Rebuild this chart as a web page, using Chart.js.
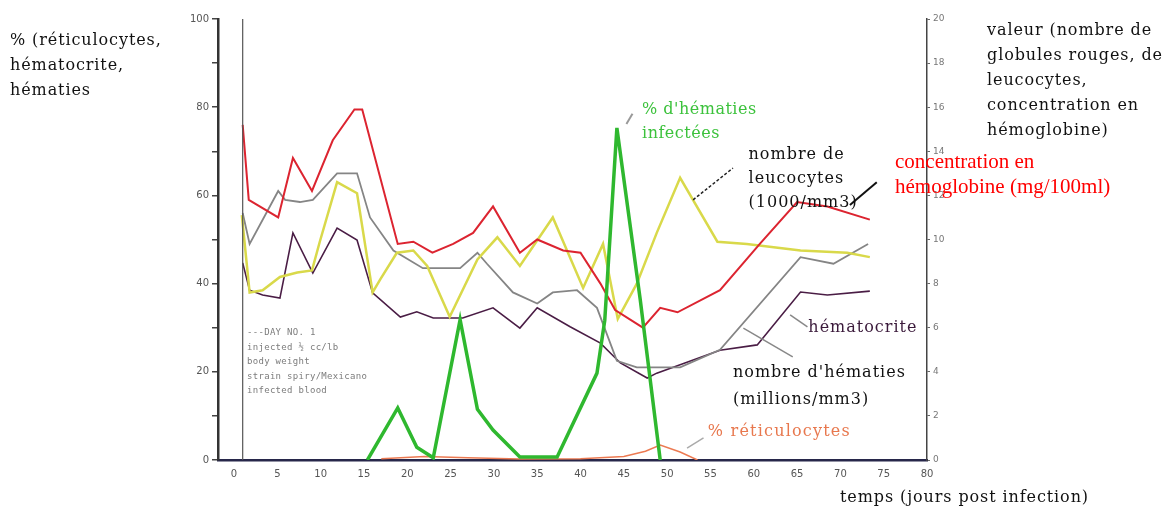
<!DOCTYPE html>
<html lang="fr">
<head>
<meta charset="utf-8">
<title>Paludisme : évolution hématologique</title>
<script src="https://cdn.jsdelivr.net/npm/chart.js@4.4.1/dist/chart.umd.min.js"></script>
<style>
    html, body { margin: 0; padding: 0; background: #fff; }
    #wrap { width: 1174px; height: 513px; }
</style>
</head>
<body>
<div id="wrap"><canvas id="bloodChart" width="1174" height="513"></canvas></div>
<script>
// Axis ticks
const dayTicks = [0, 5, 10, 15, 20, 25, 30, 35, 40, 45, 50, 55, 60, 65, 70, 75, 80];
const percentLabels = [0, 20, 40, 60, 80, 100];
const valueLabels = [0, 2, 4, 6, 8, 10, 12, 14, 16, 18, 20];
const infectionDay = 1;

// Hemoglobin concentration (mg/100ml) - right axis
const hemoDays = [1.0, 1.7, 5.1, 6.8, 9.0, 11.4, 13.9, 14.8, 18.9, 20.7, 22.9, 25.3, 27.6, 29.9, 33.0, 35.0, 38.0, 40.0, 42.3, 44.0, 47.2, 49.2, 51.2, 56.1, 60.7, 65.0, 68.5, 73.4];
const hemoValues = [15.2, 11.8, 11.0, 13.7, 12.2, 14.5, 15.9, 15.9, 9.8, 9.9, 9.4, 9.8, 10.3, 11.5, 9.4, 10.0, 9.5, 9.4, 8.0, 6.8, 6.0, 6.9, 6.7, 7.7, 9.8, 11.7, 11.5, 10.9];

// Leucocytes (1000/mm3) - right axis
const leucoDays = [0.9, 1.8, 3.3, 5.3, 7.3, 9.0, 9.9, 11.9, 14.2, 16.0, 16.9, 18.8, 20.7, 22.3, 24.9, 28.1, 30.4, 33.0, 36.8, 40.3, 42.6, 44.3, 46.5, 48.8, 51.5, 55.8, 59.2, 65.4, 70.8, 73.4];
const leucoValues = [11.1, 7.6, 7.7, 8.3, 8.5, 8.6, 9.9, 12.6, 12.1, 7.6, 8.2, 9.4, 9.5, 8.8, 6.5, 9.1, 10.1, 8.8, 11.0, 7.8, 9.8, 6.4, 8.0, 10.3, 12.8, 9.9, 9.8, 9.5, 9.4, 9.2];

// Red cell count (millions/mm3) - right axis
const rbcDays = [1.0, 1.8, 5.1, 5.9, 7.6, 9.1, 11.9, 14.2, 15.7, 18.4, 21.8, 26.1, 28.1, 29.2, 32.2, 35.0, 36.8, 39.6, 41.9, 44.2, 46.5, 51.5, 56.1, 65.4, 69.2, 73.2];
const rbcValues = [11.2, 9.8, 12.2, 11.8, 11.7, 11.8, 13.0, 13.0, 11.0, 9.5, 8.7, 8.7, 9.4, 8.9, 7.6, 7.1, 7.6, 7.7, 6.9, 4.5, 4.2, 4.2, 5.0, 9.2, 8.9, 9.8];

// Hematocrit (%) - left axis
const hctDays = [1.0, 1.8, 3.3, 5.3, 6.8, 9.1, 11.9, 14.2, 16.0, 19.2, 21.1, 23.0, 26.4, 29.9, 33.0, 35.0, 38.8, 42.3, 44.6, 47.7, 48.8, 56.1, 60.4, 65.4, 68.5, 73.4];
const hctValues = [44.7, 38.5, 37.4, 36.7, 51.5, 42.4, 52.6, 49.9, 37.9, 32.4, 33.6, 32.2, 32.2, 34.5, 29.9, 34.5, 30.2, 26.5, 22.0, 18.6, 19.7, 24.9, 26.1, 38.1, 37.4, 38.3];

// Infected red cells (%) - left axis
const infectedDays = [15.4, 18.9, 21.1, 23.0, 26.1, 28.1, 29.9, 33.0, 37.3, 41.9, 42.8, 44.2, 46.9, 49.2];
const infectedValues = [0, 11.8, 2.9, 0.5, 31.8, 11.5, 6.8, 0.7, 0.7, 19.7, 31.7, 75.3, 36.3, 0];

// Reticulocytes (%) - left axis
const reticDays = [17.0, 22.0, 27.0, 33.0, 40.0, 45.0, 47.5, 49.2, 51.5, 53.5];
const reticValues = [0.3, 0.8, 0.5, 0.2, 0.3, 0.8, 2.0, 3.4, 1.8, 0];

// Labels placed inside the plot, in day / percent units
const plotNotes = [
    { lines: ["% d'hématies", 'infectées'], day: 47.1, value: 79.4, step: 24, spacing: 0.5, color: '#3cc23c' },
    { lines: ['nombre de', 'leucocytes', '(1000/mm3)'], day: 59.4, value: 69.2, step: 24, spacing: 1, color: '#111' },
    { lines: ['hématocrite'], day: 66.3, value: 29.9, step: 24, spacing: 1, color: '#3b1a3b' },
    { lines: ["nombre d'hématies", '(millions/mm3)'], day: 57.6, value: 19.7, step: 27, spacing: 1, color: '#111' },
    { lines: ['% réticulocytes'], day: 54.7, value: 6.3, step: 24, spacing: 1.2, color: '#e8784e' }
];

const pointers = [
    { from: [45.3, 76.2], to: [46.0, 78.5], color: '#999', width: 2 },
    { from: [53.0, 59.0], to: [57.6, 66.2], color: '#222', width: 1.5, dash: [3, 2] },
    { from: [71.1, 57.8], to: [74.2, 63.0], color: '#111', width: 2 },
    { from: [64.2, 32.9], to: [66.2, 30.2], color: '#888', width: 1.5 },
    { from: [58.8, 29.9], to: [64.5, 23.4], color: '#888', width: 1.5 },
    { from: [52.3, 2.7], to: [54.2, 5.0], color: '#aaa', width: 1.5 }
];

const protocolLines = ['---DAY NO. 1', 'injected ½ cc/lb', 'body weight', 'strain spiry/Mexicano', 'infected blood'];

function toPoints(days, values) {
    return days.map(function (d, i) { return { x: d, y: values[i] }; });
}

function series(label, days, values, color, width, axis) {
    return {
        label: label,
        data: toPoints(days, values),
        borderColor: color,
        borderWidth: width,
        yAxisID: axis,
        pointRadius: 0,
        tension: 0,
        fill: false
    };
}

function drawLines(ctx, lines, x, y, step) {
    lines.forEach(function (t, i) { ctx.fillText(t, x, y + i * step); });
}

// Titles, protocol note, labels and pointers
const notesPlugin = {
    id: 'notes',
    afterDatasetsDraw: function (chart) {
        const ctx = chart.ctx;
        const x = chart.scales.x;
        const y = chart.scales.y;
        ctx.save();

        // vertical marker on the infection day
        ctx.strokeStyle = '#555';
        ctx.lineWidth = 1.2;
        ctx.beginPath();
        ctx.moveTo(x.getPixelForValue(infectionDay), y.getPixelForValue(100));
        ctx.lineTo(x.getPixelForValue(infectionDay), y.getPixelForValue(0));
        ctx.stroke();

        pointers.forEach(function (p) {
            ctx.strokeStyle = p.color;
            ctx.lineWidth = p.width;
            ctx.setLineDash(p.dash || []);
            ctx.beginPath();
            ctx.moveTo(x.getPixelForValue(p.from[0]), y.getPixelForValue(p.from[1]));
            ctx.lineTo(x.getPixelForValue(p.to[0]), y.getPixelForValue(p.to[1]));
            ctx.stroke();
        });
        ctx.setLineDash([]);

        ctx.textBaseline = 'middle';
        ctx.textAlign = 'left';

        ctx.font = '9px "DejaVu Sans Mono"';
        ctx.letterSpacing = '0.3px';
        ctx.fillStyle = '#7c7c7c';
        drawLines(ctx, protocolLines, x.getPixelForValue(1.5), y.getPixelForValue(28.8), 14.5);

        ctx.font = '16px "DejaVu Serif"';
        plotNotes.forEach(function (n) {
            ctx.letterSpacing = n.spacing + 'px';
            ctx.fillStyle = n.color;
            drawLines(ctx, n.lines, x.getPixelForValue(n.day), y.getPixelForValue(n.value), n.step);
        });

        ctx.letterSpacing = '0.9px';
        ctx.fillStyle = '#111';
        drawLines(ctx, ['% (réticulocytes,', 'hématocrite,', 'hématies'], 10, 41, 25);
        drawLines(ctx, ['valeur (nombre de', 'globules rouges, de', 'leucocytes,', 'concentration en', 'hémoglobine)'], 987, 31, 25);
        ctx.fillText('temps (jours post infection)', 840, 498);

        ctx.letterSpacing = '0px';
        ctx.font = '21px "Liberation Serif"';
        ctx.fillStyle = '#ff0000';
        drawLines(ctx, ['concentration en', 'hémoglobine (mg/100ml)'], 895, 162, 25);

        ctx.restore();
    }
};

document.addEventListener('DOMContentLoaded', function () {
    const canvas = document.getElementById('bloodChart');
    const tickFont = { family: '"DejaVu Sans"', size: 10 };

    new Chart(canvas, {
        type: 'line',
        data: {
            datasets: [
                series("% d'hématies infectées", infectedDays, infectedValues, '#2fb82f', 3.5, 'y'),
                series('% réticulocytes', reticDays, reticValues, '#ec7a52', 1.5, 'y'),
                series('hémoglobine', hemoDays, hemoValues, '#dc2430', 2, 'yRight'),
                series('leucocytes', leucoDays, leucoValues, '#d9d94a', 2.5, 'yRight'),
                series('hématies', rbcDays, rbcValues, '#858585', 1.8, 'yRight'),
                series('hématocrite', hctDays, hctValues, '#4a1d45', 1.6, 'y')
            ]
        },
        options: {
            responsive: false,
            animation: false,
            layout: { padding: { top: 19 } },
            plugins: {
                legend: { display: false },
                tooltip: { enabled: false }
            },
            scales: {
                x: {
                    type: 'linear',
                    min: -1.85,
                    max: 80,
                    afterBuildTicks: function (s) { s.ticks = dayTicks.map(function (v) { return { value: v }; }); },
                    afterFit: function (s) { s.height = 53; },
                    grid: { drawOnChartArea: false, drawTicks: false },
                    border: { color: '#27274a', width: 2.5 },
                    ticks: { padding: 8, font: tickFont, color: '#555', maxRotation: 0, autoSkip: false }
                },
                y: {
                    position: 'left',
                    min: 0,
                    max: 100,
                    afterFit: function (s) { s.width = 218; },
                    grid: { drawOnChartArea: false, tickLength: 6, color: '#444', lineWidth: 1.5 },
                    border: { color: '#333', width: 2.5 },
                    ticks: {
                        stepSize: 10,
                        padding: 3,
                        font: tickFont,
                        color: '#555',
                        callback: function (v) { return percentLabels.includes(v) ? v : ''; }
                    }
                },
                yRight: {
                    position: 'right',
                    min: 0,
                    max: 20,
                    afterFit: function (s) { s.width = 247; },
                    grid: { drawOnChartArea: false, tickLength: 3, color: '#666' },
                    border: { color: '#444', width: 1.5 },
                    ticks: {
                        stepSize: 2,
                        padding: 3,
                        font: { family: '"DejaVu Sans"', size: 9 },
                        color: '#777',
                        callback: function (v) { return valueLabels.includes(v) ? v : ''; }
                    }
                }
            }
        },
        plugins: [notesPlugin]
    });
});
</script>
</body>
</html>
